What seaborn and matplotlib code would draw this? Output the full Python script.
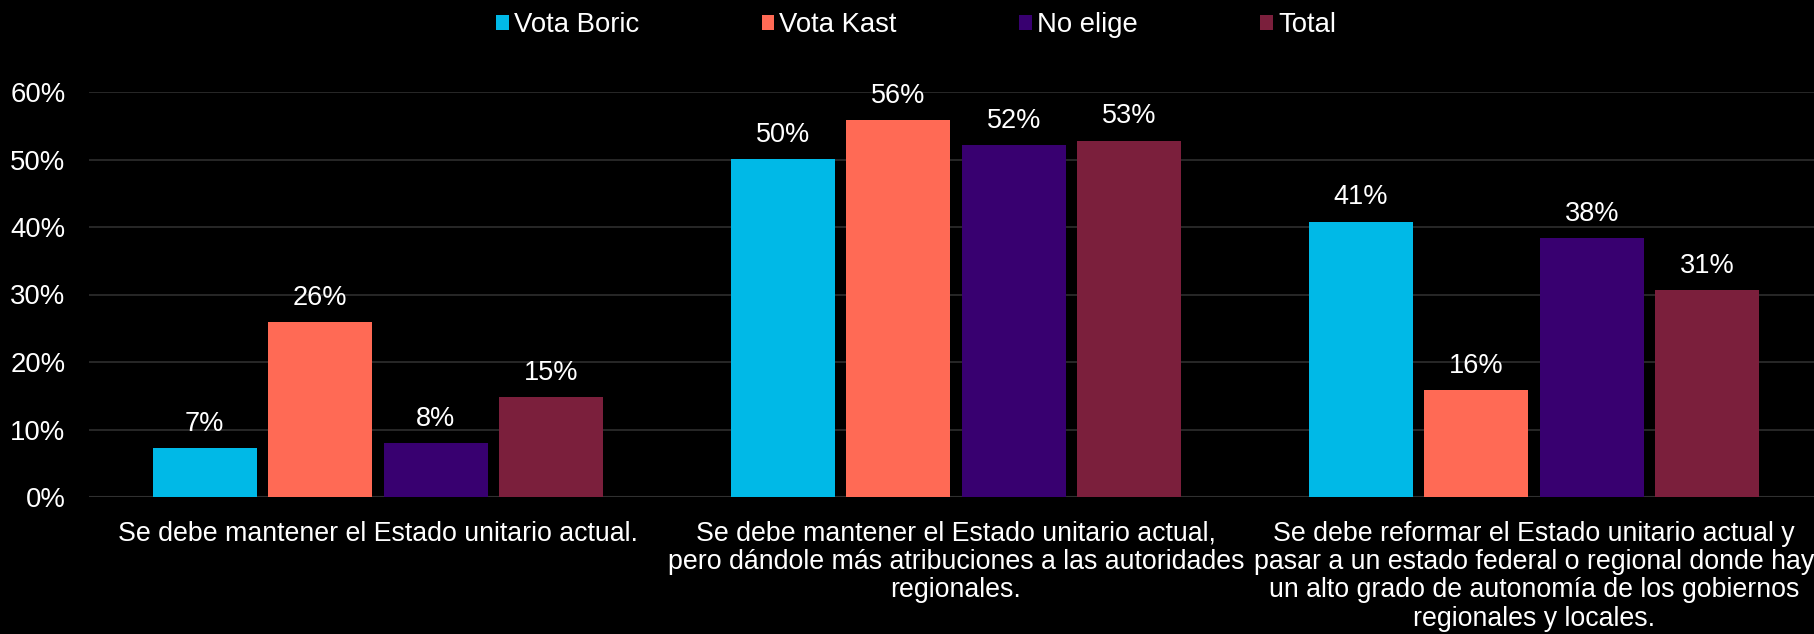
import matplotlib
matplotlib.use("Agg")
import matplotlib.pyplot as plt
import seaborn as sns
import pandas as pd

# Survey answers (percent) by voting group
categories = [
    "Se debe mantener el Estado unitario actual.",
    "Se debe mantener el Estado unitario actual,\npero dándole más atribuciones a las autoridades\nregionales.",
    "Se debe reformar el Estado unitario actual y\npasar a un estado federal o regional donde hay\nun alto grado de autonomía de los gobiernos\nregionales y locales.",
]
series = ["Vota Boric", "Vota Kast", "No elige", "Total"]
vota_boric = [7.3, 50.1, 40.8]
vota_kast = [25.9, 55.9, 15.8]
no_elige = [8.0, 52.1, 38.4]
total = [14.8, 52.8, 30.6]
y_ticks = [0, 10, 20, 30, 40, 50, 60]

colors = ["#00B9E7", "#FF6A55", "#380070", "#7B1F3C"]

rows = []
for name, vals in zip(series, [vota_boric, vota_kast, no_elige, total]):
    for cat, v in zip(categories, vals):
        rows.append({"categoria": cat, "grupo": name, "valor": v})
df = pd.DataFrame(rows)

sns.set_theme(style="dark")
plt.rcParams["font.family"] = ["Liberation Sans", "DejaVu Sans"]
plt.rcParams["text.color"] = "white"

W, H = 1814, 634
fig = plt.figure(figsize=(W / 100, H / 100), dpi=100, facecolor="black")
left_px, right_px = 89, 1814
bottom_px, top_px = 497, 92
ax = fig.add_axes([left_px / W, (H - bottom_px) / H,
                   (right_px - left_px) / W, (bottom_px - top_px) / H])
ax.set_facecolor("black")

sns.barplot(data=df, x="categoria", y="valor", hue="grupo",
            order=categories, hue_order=series, palette=colors,
            width=0.8, gap=0.1, saturation=1, ax=ax, linewidth=0)

# one category spans about 578 px
cat_px = 578.0
ax.set_xlim(-0.5, -0.5 + (right_px - left_px) / cat_px)
ax.set_ylim(0, 60)
ax.set_yticks(y_ticks)
ax.set_yticklabels([f"{t}%" for t in y_ticks])

ax.grid(axis="y", color="#2E2E2E", linewidth=1.2)
ax.grid(axis="x", visible=False)
ax.set_axisbelow(True)
for s in ax.spines.values():
    s.set_visible(False)
ax.axhline(0, color="#3A3A3A", linewidth=1.5, zorder=0.5)

ax.tick_params(axis="y", colors="white", labelsize=19.8, pad=17, length=0)
ax.tick_params(axis="x", colors="white", labelsize=19.3, pad=17, length=0)
for lbl in ax.get_xticklabels():
    lbl.set_linespacing(1.12)
    lbl.set_ha("center")
ax.set_xlabel("")
ax.set_ylabel("")

for cont in ax.containers:
    ax.bar_label(cont, fmt=lambda v: f"{v:.0f}%", padding=8,
                 color="white", fontsize=19.5, clip_on=False)

handles, labels = ax.get_legend_handles_labels()
if ax.get_legend() is not None:
    ax.get_legend().remove()
fig.legend(handles, labels, loc="center", bbox_to_anchor=(0.505, 1 - 25.5 / H),
           ncol=4, frameon=False, fontsize=19.8, handlelength=0.47,
           handleheight=0.47, handletextpad=0.18, columnspacing=4.45,
           labelcolor="white")

fig.savefig("out.png", dpi=100, facecolor="black")
